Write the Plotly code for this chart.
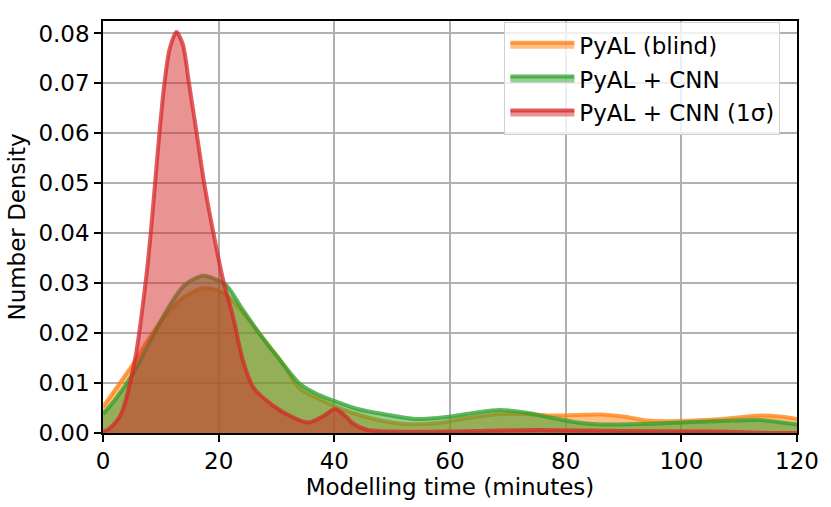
import plotly.graph_objects as go

# ---- data ----
x_blind = [0, 2, 5.2, 8, 11, 14, 17.3, 20, 22, 25, 28, 31, 34.1, 37, 39.8, 44, 48, 52, 58, 63,
           68.6, 73, 77.3, 82, 86, 90, 94, 100, 107, 113.6, 117, 120]
y_blind = [0.0052, 0.0085, 0.0138, 0.019, 0.0238, 0.0272, 0.029, 0.0285, 0.027, 0.023, 0.0185,
           0.0140, 0.0088, 0.0070, 0.0055, 0.0037, 0.0025, 0.0018, 0.0020, 0.0030, 0.0038, 0.0038,
           0.0035, 0.0036, 0.0037, 0.0033, 0.0025, 0.0024, 0.0028, 0.0035, 0.0033, 0.0028]

x_cnn = [0, 2, 5, 8, 11, 14, 17.3, 20, 21.4, 24, 27.1, 30, 34.1, 37, 39.8, 44, 48.4, 54, 59.4, 64,
         68.6, 73, 77.3, 82, 86, 93, 100, 107, 113.6, 120]
y_cnn = [0.0038, 0.0065, 0.0115, 0.018, 0.0245, 0.0295, 0.0315, 0.0305, 0.0295, 0.0250, 0.0198,
         0.0155, 0.0098, 0.0078, 0.0065, 0.0048, 0.0038, 0.0028, 0.0032, 0.0040, 0.0046, 0.0041,
         0.0031, 0.0021, 0.0017, 0.0018, 0.0021, 0.0024, 0.0026, 0.0017]

x_1sig = [0, 1, 3, 5.5, 7.4, 8.25, 9.0, 9.75, 10.6, 11.5, 12.7, 13.8, 14.9, 16.2, 17.5, 19.1, 20.8,
          22.5, 24.2, 26, 29.4, 32.9, 35.5, 38, 40.1, 42, 43.2, 45.7, 50, 60, 75, 90, 105, 112, 116, 120]
y_1sig = [0.0003, 0.0008, 0.0035, 0.0145, 0.0305, 0.040, 0.050, 0.060, 0.0698, 0.0768, 0.0803,
          0.0778, 0.0698, 0.060, 0.050, 0.040, 0.0305, 0.0232, 0.0145, 0.0091, 0.0055, 0.0031,
          0.0021, 0.0033, 0.0048, 0.0033, 0.0019, 0.0006, 0.0003, 0.0003, 0.0006, 0.0004, 0.0003,
          0.0001, 0.0, 0.0]

names = ["PyAL (blind)", "PyAL + CNN", "PyAL + CNN (1\u03c3)"]
x_ticks = [0, 20, 40, 60, 80, 100, 120]
y_ticks = [0.00, 0.01, 0.02, 0.03, 0.04, 0.05, 0.06, 0.07, 0.08]

series = [
    (x_blind, y_blind, (255, 127, 14)),
    (x_cnn, y_cnn, (44, 160, 44)),
    (x_1sig, y_1sig, (214, 39, 40)),
]

fig = go.Figure()
for i, ((xs, ys, c), name) in enumerate(zip(series, names)):
    r, g, b = c
    fig.add_trace(go.Scatter(
        x=xs, y=ys, name=name, mode="lines", legendgroup=f"g{i}",
        line=dict(color=f"rgba({r},{g},{b},0.75)", width=4, shape="spline", smoothing=0.8),
        fill="tozeroy", fillcolor=f"rgba({r},{g},{b},0.5)",
    ))

font = dict(family="DejaVu Sans", size=23, color="black")
fig.update_layout(
    width=831, height=507,
    margin=dict(l=103, r=34, t=21, b=74),
    plot_bgcolor="white", paper_bgcolor="white",
    font=font,
    showlegend=True,
    legend=dict(
        x=0.976, y=0.997, xanchor="right", yanchor="top",
        bgcolor="rgba(255,255,255,0.8)", bordercolor="#d0d0d0", borderwidth=1,
        font=dict(family="DejaVu Sans", size=23, color="black"),
        itemwidth=64, tracegroupgap=1,
    ),
)
fig.update_xaxes(
    range=[0, 120], tickvals=x_ticks, ticktext=[str(v) for v in x_ticks],
    tickfont=dict(family="DejaVu Sans", size=23, color="black"),
    showgrid=True, gridcolor="#b0b0b0", gridwidth=1.5,
    showline=True, linecolor="black", linewidth=1.5, mirror=True,
    ticks="outside", ticklen=7, tickwidth=1.5, tickcolor="black",
    zeroline=False, automargin=False,
    title=dict(text="Modelling time (minutes)", font=font, standoff=6),
)
fig.update_yaxes(
    range=[0, 0.0825], tickvals=y_ticks, ticktext=[f"{v:.2f}" for v in y_ticks],
    tickfont=dict(family="DejaVu Sans", size=23, color="black"),
    showgrid=True, gridcolor="#b0b0b0", gridwidth=1.5,
    showline=True, linecolor="black", linewidth=1.5, mirror=True,
    ticks="outside", ticklen=7, tickwidth=1.5, tickcolor="black",
    zeroline=False, automargin=False,
    title=dict(text="Number Density", font=font, standoff=6),
)

fig.write_html("out.html", config={"displayModeBar": False},
               post_script="document.body.style.margin='0';")
